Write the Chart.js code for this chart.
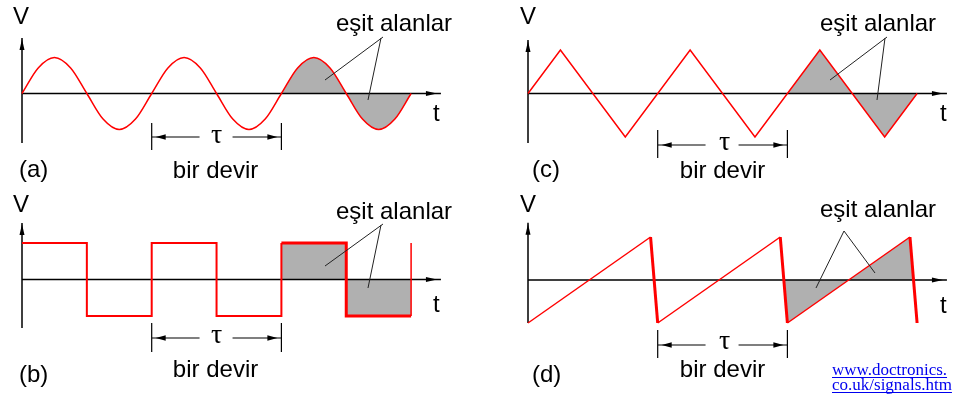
<!DOCTYPE html>
<html>
<head>
<meta charset="utf-8">
<title>Sinyal biçimleri</title>
<script src="https://cdn.jsdelivr.net/npm/chart.js@4.4.1/dist/chart.umd.min.js"></script>
<style>
  html, body { margin: 0; padding: 0; background: #ffffff; }
  #wrap { position: relative; width: 959px; height: 400px; overflow: hidden; background: #ffffff; }
  #wrap canvas { position: absolute; left: 0; top: 0; }
</style>
</head>
<body>
<div id="wrap">
  <canvas id="ca" width="959" height="400"></canvas>
  <canvas id="cb" width="959" height="400"></canvas>
  <canvas id="cc" width="959" height="400"></canvas>
  <canvas id="cd" width="959" height="400"></canvas>
</div>
<script>
// Time is measured in periods (τ), voltage in units of the peak value.

// (a) sine wave, sampled every eighth of a period
const sineT = [0, 0.125, 0.25, 0.375, 0.5, 0.625, 0.75, 0.875,
               1, 1.125, 1.25, 1.375, 1.5, 1.625, 1.75, 1.875,
               2, 2.125, 2.25, 2.375, 2.5, 2.625, 2.75, 2.875, 3];
const sineV = [0, 0.71, 1, 0.71, 0, -0.71, -1, -0.71,
               0, 0.71, 1, 0.71, 0, -0.71, -1, -0.71,
               0, 0.71, 1, 0.71, 0, -0.71, -1, -0.71, 0];
const sineShadeT = [2, 2.125, 2.25, 2.375, 2.5, 2.625, 2.75, 2.875, 3];
const sineShadeV = [0, 0.71, 1, 0.71, 0, -0.71, -1, -0.71, 0];

// (b) square wave (ends with a rising edge at t = 3)
const squareT = [0, 0.5, 1, 1.5, 2, 2.5, 3, 3];
const squareV = [1, -1, 1, -1, 1, -1, -1, 1];
const squareShadeT = [2, 2.5, 3];
const squareShadeV = [1, -1, -1];

// (c) triangle wave
const triT = [0, 0.25, 0.75, 1.25, 1.75, 2.25, 2.75, 3];
const triV = [0, 1, -1, 1, -1, 1, -1, 0];
const triShadeT = [2, 2.25, 2.75, 3];
const triShadeV = [0, 1, -1, 0];

// (d) sawtooth wave
const sawT = [0, 0.945, 1, 1.945, 2, 2.945, 3];
const sawV = [-1, 1, -1, 1, -1, 1, -1];
const sawShadeT = [1.97, 2, 2.945, 2.97];
const sawShadeV = [0, -1, 1, 0];

// Text
const axisV = 'V';
const axisT = 't';
const periodSymbol = 'τ';
const periodText = 'bir devir';
const areaText = 'eşit alanlar';
const panelNames = ['(a)', '(b)', '(c)', '(d)'];
const sourceLines = ['www.doctronics.', 'co.uk/signals.htm'];

const W = 959, H = 400;
const RED = '#ff0000';
const GRAY = '#b0b0b0';
const SANS = '"Liberation Sans", Arial, Helvetica, sans-serif';
const SERIF = '"Liberation Serif", "Times New Roman", Times, serif';

function pts(xs, ys) { return xs.map((x, i) => ({ x: x, y: ys[i] })); }

function arrowHead(ctx, tipX, tipY, dx, dy, len, half) {
  // dx,dy: unit direction the arrow points to
  const bx = tipX - dx * len, by = tipY - dy * len;
  const nx = -dy, ny = dx;
  ctx.beginPath();
  ctx.moveTo(tipX, tipY);
  ctx.lineTo(bx + nx * half, by + ny * half);
  ctx.lineTo(bx - nx * half, by - ny * half);
  ctx.closePath();
  ctx.fill();
}

function decorPlugin(d) {
  return {
    id: 'decor',
    beforeDatasetDraw(chart, args) {
      if (args.index !== 0) return;
      const ctx = chart.ctx, xs = chart.scales.x, ys = chart.scales.y;
      const x0 = xs.getPixelForValue(0), y0 = ys.getPixelForValue(0);
      const xEnd = xs.getPixelForValue(d.xEnd);
      const yTop = ys.getPixelForValue(d.yTop), yBot = ys.getPixelForValue(d.yBot);
      ctx.save();
      ctx.strokeStyle = '#000';
      ctx.fillStyle = '#000';
      ctx.lineWidth = 1.5;
      ctx.beginPath();
      ctx.moveTo(x0, yBot); ctx.lineTo(x0, yTop);
      ctx.moveTo(x0, y0); ctx.lineTo(xEnd, y0);
      ctx.stroke();
      arrowHead(ctx, xEnd - 4, y0, 1, 0, 11, 2.5);
      arrowHead(ctx, x0, yTop + 1, 0, -1, 11, 2.5);
      ctx.restore();
    },
    afterDraw(chart) {
      const ctx = chart.ctx, xs = chart.scales.x;
      ctx.save();
      // period marker
      const t1 = xs.getPixelForValue(1), t2 = xs.getPixelForValue(2);
      const tm = (t1 + t2) / 2;
      ctx.strokeStyle = '#000';
      ctx.fillStyle = '#000';
      ctx.lineWidth = 1.2;
      ctx.beginPath();
      ctx.moveTo(t1, d.tauTop); ctx.lineTo(t1, d.tauBot);
      ctx.moveTo(t2, d.tauTop); ctx.lineTo(t2, d.tauBot);
      ctx.moveTo(t1, d.tauY); ctx.lineTo(tm - 17, d.tauY);
      ctx.moveTo(tm + 16, d.tauY); ctx.lineTo(t2, d.tauY);
      ctx.stroke();
      arrowHead(ctx, t1 + 4, d.tauY, -1, 0, 10, 2.8);
      arrowHead(ctx, t2 - 4, d.tauY, 1, 0, 10, 2.8);
      ctx.font = '28px ' + SERIF;
      ctx.textAlign = 'center';
      ctx.textBaseline = 'alphabetic';
      ctx.fillText(periodSymbol, tm + d.tauDx, d.tauTextY);

      // leader lines
      ctx.lineWidth = 1;
      ctx.strokeStyle = '#222';
      ctx.beginPath();
      d.leaders.forEach(l => { ctx.moveTo(l[0], l[1]); ctx.lineTo(l[2], l[3]); });
      ctx.stroke();

      // labels
      ctx.fillStyle = '#000';
      ctx.font = '24px ' + SANS;
      ctx.textAlign = 'left';
      ctx.fillText(axisV, d.vX, d.vY);
      ctx.fillText(axisT, d.tX, d.tY);
      ctx.fillText(areaText, d.areaX, d.areaY);
      ctx.fillText(d.name, d.nameX, d.nameY);
      ctx.textAlign = 'center';
      ctx.fillText(periodText, tm + d.devirDx, d.devirY);

      if (d.source) {
        ctx.font = '17px ' + SERIF;
        ctx.textAlign = 'left';
        ctx.fillStyle = '#0000ee';
        ctx.strokeStyle = '#0000ee';
        ctx.lineWidth = 1;
        d.source.forEach((s, i) => {
          const y = d.srcY + i * 15;
          ctx.fillText(s, d.srcX, y);
          const w = ctx.measureText(s).width;
          ctx.beginPath();
          ctx.moveTo(d.srcX, y + 2.5); ctx.lineTo(d.srcX + w, y + 2.5);
          ctx.stroke();
        });
      }
      ctx.restore();
    }
  };
}

function makeChart(id, frame, datasets, decor) {
  return new Chart(document.getElementById(id), {
    type: 'line',
    data: { datasets: datasets },
    options: {
      responsive: false,
      animation: false,
      events: [],
      layout: {
        padding: {
          left: frame.ox,
          right: W - (frame.ox + 3 * frame.P),
          top: frame.oy - frame.A,
          bottom: H - (frame.oy + frame.A)
        }
      },
      scales: {
        x: { type: 'linear', min: 0, max: 3, display: false },
        y: { type: 'linear', min: -1, max: 1, display: false }
      },
      elements: { point: { radius: 0 } },
      plugins: { legend: { display: false }, tooltip: { enabled: false } }
    },
    plugins: [decorPlugin(decor)]
  });
}

// (a) sine
makeChart('ca', { ox: 22, oy: 93.5, P: 129.7, A: 36 }, [
  { data: pts(sineT, sineV), borderColor: RED, borderWidth: 1.5, fill: false,
    cubicInterpolationMode: 'monotone', clip: false },
  { data: pts(sineShadeT, sineShadeV), borderWidth: 0, borderColor: 'rgba(0,0,0,0)',
    backgroundColor: GRAY, fill: 'origin', cubicInterpolationMode: 'monotone', clip: false }
], {
  xEnd: 3.23, yTop: 1.54, yBot: -1.375,
  tauTop: 123, tauBot: 150, tauY: 137, tauTextY: 143, tauDx: 0,
  leaders: [[383, 37, 325, 80], [381, 38, 368, 100]],
  vX: 13, vY: 24, tX: 433, tY: 121, areaX: 336, areaY: 31,
  name: panelNames[0], nameX: 19, nameY: 177, devirDx: -1, devirY: 178
});

// (b) square
makeChart('cb', { ox: 22, oy: 279.5, P: 129.7, A: 36.5 }, [
  { data: pts(squareT, squareV), borderColor: RED, fill: false, stepped: 'before', clip: false,
    borderWidth: 2,
    segment: {
      borderWidth: c => (c.p0.parsed.x === c.p1.parsed.x ? 1.5 : (c.p0.parsed.x >= 2 ? 3 : 2))
    } },
  { data: pts(squareShadeT, squareShadeV), borderWidth: 0, borderColor: 'rgba(0,0,0,0)',
    backgroundColor: GRAY, fill: 'origin', stepped: 'before', clip: false }
], {
  xEnd: 3.23, yTop: 1.55, yBot: -1.33,
  tauTop: 323, tauBot: 352, tauY: 338, tauTextY: 343, tauDx: 0,
  leaders: [[383, 224, 325, 266], [381, 225, 368, 288]],
  vX: 13, vY: 212, tX: 433, tY: 312, areaX: 336, areaY: 219,
  name: panelNames[1], nameX: 19, nameY: 382, devirDx: -1, devirY: 377
});

// (c) triangle
makeChart('cc', { ox: 528, oy: 93.5, P: 129.7, A: 43.5 }, [
  { data: pts(triT, triV), borderColor: RED, borderWidth: 1.5, fill: false, clip: false },
  { data: pts(triShadeT, triShadeV), borderWidth: 0, borderColor: 'rgba(0,0,0,0)',
    backgroundColor: GRAY, fill: 'origin', clip: false }
], {
  xEnd: 3.23, yTop: 1.23, yBot: -1.14,
  tauTop: 130, tauBot: 158, tauY: 145, tauTextY: 150, tauDx: 2,
  leaders: [[887, 37, 830, 80], [885, 38, 877, 100]],
  vX: 520, vY: 24, tX: 940, tY: 121, areaX: 820, areaY: 31,
  name: panelNames[2], nameX: 532, nameY: 177, devirDx: 0, devirY: 178
});

// (d) sawtooth
makeChart('cd', { ox: 528, oy: 280, P: 129.7, A: 43 }, [
  { data: pts(sawT, sawV), borderColor: RED, fill: false, clip: false, borderWidth: 1.5,
    segment: { borderWidth: c => (c.p1.parsed.y < c.p0.parsed.y ? 3 : 1.5) } },
  { data: pts(sawShadeT, sawShadeV), borderWidth: 0, borderColor: 'rgba(0,0,0,0)',
    backgroundColor: GRAY, fill: 'origin', clip: false }
], {
  xEnd: 3.23, yTop: 1.33, yBot: -1.0,
  tauTop: 330, tauBot: 358, tauY: 345, tauTextY: 349, tauDx: 2,
  leaders: [[844, 231, 816, 288], [844, 231, 875, 273]],
  vX: 520, vY: 212, tX: 940, tY: 313, areaX: 820, areaY: 217,
  name: panelNames[3], nameX: 532, nameY: 382, devirDx: 0, devirY: 377,
  source: sourceLines, srcX: 832, srcY: 375
});
</script>
</body>
</html>
